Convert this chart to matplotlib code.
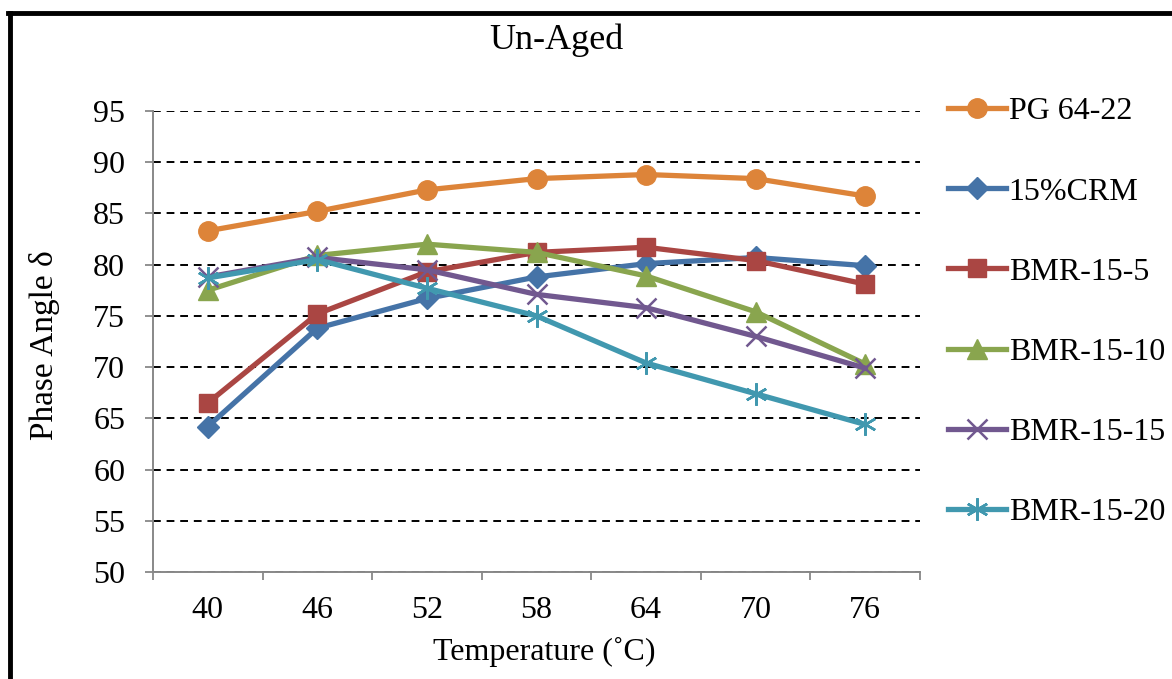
import matplotlib
matplotlib.use("Agg")
import matplotlib.pyplot as plt
from matplotlib.lines import Line2D

temps = ["40", "46", "52", "58", "64", "70", "76"]
pg6422 = [83.3, 85.2, 87.3, 88.4, 88.8, 88.4, 86.7]
crm15 = [64.2, 73.8, 76.7, 78.8, 80.1, 80.7, 79.9]
bmr_15_5 = [66.5, 75.2, 79.3, 81.2, 81.7, 80.4, 78.1]
bmr_15_10 = [77.5, 80.9, 82.0, 81.2, 78.9, 75.4, 70.3]
bmr_15_15 = [78.8, 80.7, 79.5, 77.1, 75.8, 73.0, 69.9]
bmr_15_20 = [78.7, 80.5, 77.7, 75.0, 70.4, 67.4, 64.4]

series = [
    ("PG 64-22", pg6422, "#DD8439", "o", 14),
    ("15%CRM", crm15, "#4573A7", "D", 11),
    ("BMR-15-5", bmr_15_5, "#AA4643", "s", 13),
    ("BMR-15-10", bmr_15_10, "#89A54E", "^", 15),
    ("BMR-15-15", bmr_15_15, "#71588F", "x", 14),
    ("BMR-15-20", bmr_15_20, "#4198AF", (6, 2, 0), 16),
]

plt.rcParams['font.family'] = ['Liberation Serif', 'DejaVu Serif']
FS = 23

fig = plt.figure(figsize=(11.72, 6.79), dpi=100)
ax = fig.add_axes([153/1172, 1-572/679, (920-153)/1172, (572-111)/679])

x = list(range(len(temps)))
handles = []
for name, vals, col, mk, ms in series:
    thin = mk == "x" or isinstance(mk, tuple)
    h, = ax.plot(x, vals, color=col, lw=3.8, marker=mk, markersize=ms,
                 markeredgewidth=1.8 if thin else 1,
                 markeredgecolor=col, markerfacecolor=col, label=name, zorder=3)
    handles.append(h)

ax.set_xlim(-0.5, 6.5)
ax.set_ylim(50, 95)
ax.set_yticks(range(50, 96, 5))
ax.set_xticks(x)
ax.set_xticklabels(temps)
ax.set_xticks([i - 0.5 for i in range(8)], minor=True)
ax.tick_params(axis='x', which='major', length=0, labelsize=FS, pad=17)
ax.tick_params(axis='x', which='minor', length=6, color='#888888', width=1.3, direction='out')
ax.tick_params(axis='y', length=6, color='#888888', width=1.3, direction='out', labelsize=FS, pad=14)

ax.yaxis.grid(True, color='black', linestyle=(0, (4, 3)), lw=1.4)
ax.set_axisbelow(True)
for s in ['top', 'right']:
    ax.spines[s].set_visible(False)
for s in ['left', 'bottom']:
    ax.spines[s].set_color('#888888')
    ax.spines[s].set_linewidth(1.4)
    ax.spines[s].set_zorder(4)

fig.text(45/1172, 1-345/679, "Phase Angle δ", fontsize=24, ha='center', va='center', rotation=90)
fig.text(544/1172, 1-652/679, "Temperature (˚C)", fontsize=FS, ha='center', va='center')
fig.text(556/1172, 1-40/679, "Un-Aged", fontsize=26, ha='center', va='center')

leg = fig.legend(handles=handles, loc='upper left', bbox_to_anchor=(948/1172, 1-97/679),
                 frameon=False, fontsize=FS, labelspacing=1.59, handlelength=1.8,
                 handletextpad=0.1, borderaxespad=0, borderpad=0)

fig.add_artist(Line2D([10/1172, 10/1172], [0, 1-13/679], transform=fig.transFigure, color='black', lw=3.5))
fig.add_artist(Line2D([8.3/1172, 1], [1-13/679, 1-13/679], transform=fig.transFigure, color='black', lw=3.5))

fig.savefig("out.png", dpi=100)
